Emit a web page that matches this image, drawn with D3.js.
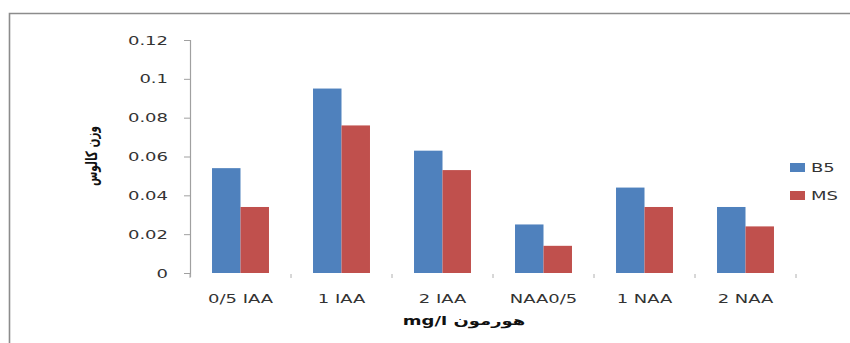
<!DOCTYPE html>
<html><head><meta charset="utf-8">
<script src="https://cdn.jsdelivr.net/npm/d3@7"></script>
<style>body{margin:0;background:#fff}svg{display:block}</style>
</head><body>
<script>
const categories = ["0/5 IAA","1 IAA","2 IAA","NAA0/5","1 NAA","2 NAA"];
const seriesNames = ["B5","MS"];
const b5Values = [0.054,0.095,0.063,0.025,0.044,0.034];
const msValues = [0.034,0.076,0.053,0.014,0.034,0.024];
const yTicks = [0,0.02,0.04,0.06,0.08,0.1,0.12];
const yTitle = "وزن کالوس";
const xTitle = "mg/l هورمون";

const W=850,H=343, SX=1.5;
const colors={B5:"#4F81BD",MS:"#C0504D"};
const svg=d3.select("body").append("svg").attr("width",W).attr("height",H);
const font="'DejaVu Sans', sans-serif";

// border
svg.append("path").attr("d","M9.5,343 V13.5 H850").attr("fill","none").attr("stroke","#8c8c8c").attr("stroke-width",1.6);

const x0=d3.scaleBand().domain(categories).range([190,796]).paddingInner(0.436).paddingOuter(0.218);
const x1=d3.scaleBand().domain(seriesNames).range([0,x0.bandwidth()]);
const y=d3.scaleLinear().domain([0,0.12]).range([273,40]);
const step=x0.step();

// y axis
svg.append("line").attr("x1",190.5).attr("x2",190.5).attr("y1",y(0.12)).attr("y2",y(0)+4).attr("stroke","#a0a0a0").attr("stroke-width",1.2);
yTicks.forEach(t=>{
  svg.append("line").attr("x1",184).attr("x2",190).attr("y1",y(t)+0.5).attr("y2",y(t)+0.5).attr("stroke","#a0a0a0");
  svg.append("text").attr("transform",`translate(168,${y(t)+4.5}) scale(${SX},1)`)
    .attr("text-anchor","end").attr("font-family",font).attr("font-size",12).attr("fill","#333").text(String(t));
});
// x category ticks
d3.range(categories.length+1).forEach(i=>{
  const xx=190+i*step;
  svg.append("line").attr("x1",xx).attr("x2",xx).attr("y1",274).attr("y2",278).attr("stroke","#b0b0b0");
});

const data=categories.map((c,i)=>({c,vals:[{k:"B5",v:b5Values[i]},{k:"MS",v:msValues[i]}]}));
const g=svg.selectAll("g.cat").data(data).join("g").attr("transform",d=>`translate(${x0(d.c)},0)`);
g.selectAll("rect").data(d=>d.vals).join("rect")
  .attr("x",d=>x1(d.k)).attr("width",x1.bandwidth())
  .attr("y",d=>y(d.v)).attr("height",d=>y(0)-y(d.v)).attr("fill",d=>colors[d.k]);

// category labels
categories.forEach(c=>{
  svg.append("text").attr("transform",`translate(${x0(c)+x0.bandwidth()/2},303) scale(${SX},1)`)
    .attr("text-anchor","middle").attr("font-family",font).attr("font-size",12).attr("fill","#333").text(c);
});

// x title
svg.append("text").attr("transform",`translate(464,325) scale(${SX},1)`)
  .attr("text-anchor","middle").attr("font-family",font).attr("font-size",12).attr("font-weight","bold").attr("fill","#111").text(xTitle);
// y title
svg.append("text").attr("transform",`translate(97,156) scale(${SX},1) rotate(-90)`)
  .attr("text-anchor","middle").attr("font-family",font).attr("font-size",10.5).attr("font-weight","bold").attr("fill","#111").text(yTitle);

// legend
seriesNames.forEach((s,i)=>{
  const ly=163+i*28;
  svg.append("rect").attr("x",790).attr("y",ly).attr("width",15).attr("height",9).attr("fill",colors[s]);
  svg.append("text").attr("transform",`translate(811,${ly+9}) scale(${SX},1)`)
    .attr("font-family",font).attr("font-size",12).attr("fill","#333").text(s);
});
</script>
</body></html>
